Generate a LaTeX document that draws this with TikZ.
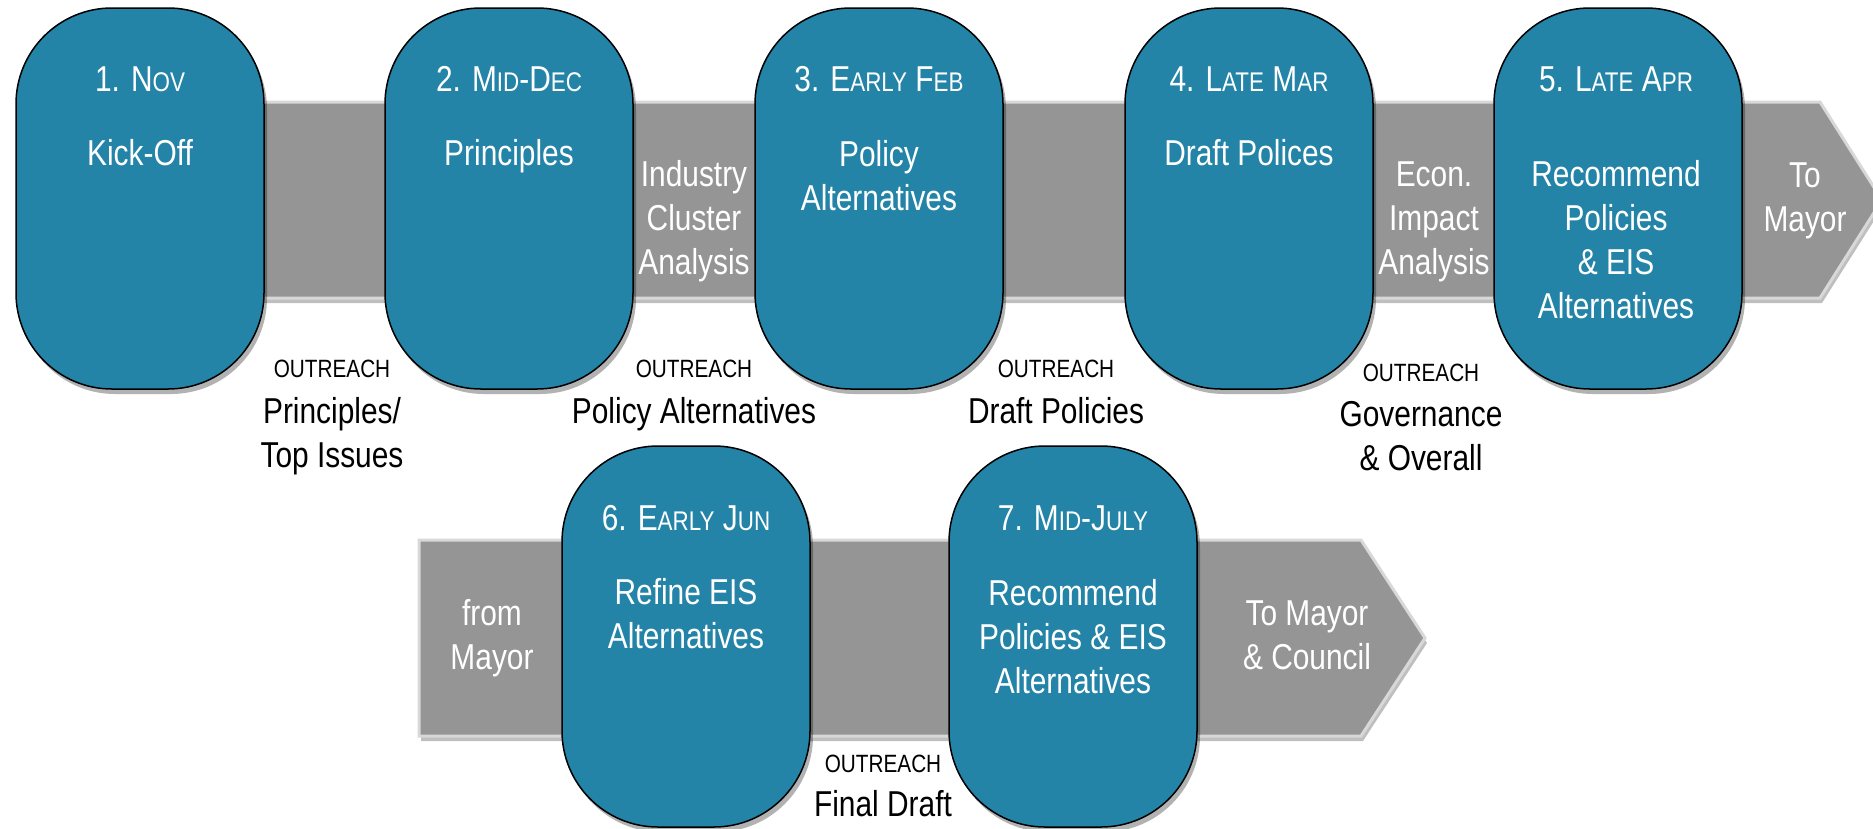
\documentclass[tikz,border=0pt]{standalone}
\usepackage{fontspec}
\setmainfont{Liberation Sans}[FakeStretch=0.83]
\usetikzlibrary{shadows}
\definecolor{capteal}{HTML}{2384A8}
\definecolor{bandgray}{HTML}{959595}
\definecolor{bandedge}{HTML}{D8D8D8}
\newcommand\smc[1]{{\fontsize{27}{44}\selectfont #1}}
\newcommand\lns[1]{\begin{tabular}[t]{@{}c@{}}#1\end{tabular}}
\tikzset{
  capsule/.style={draw=black, line width=1.5pt, fill=capteal, rounded corners=96pt,
    minimum width=248pt, minimum height=381pt, inner sep=0pt,
    drop shadow={shadow xshift=3pt, shadow yshift=-5pt, opacity=0.3, fill=black}},
  band/.style={fill=bandgray, draw=bandedge, line width=3pt,
    drop shadow={shadow xshift=2pt, shadow yshift=-5pt, opacity=0.25, fill=black}},
  txt/.style={anchor=base, inner sep=0pt, font=\fontsize{36}{44}\selectfont, text=white},
  dark/.style={txt, text=black},
  outr/.style={anchor=base, inner sep=0pt, font=\fontsize{25}{30}\selectfont, text=black}
}
\begin{document}
\begin{tikzpicture}[x=1pt, y=-1pt]
\useasboundingbox (0,0) rectangle (1873,828);
% arrows (bands)
\path[band] (150,102) -- (1820,102) -- (1882,200) -- (1820,298) -- (150,298) -- cycle;
\path[band] (419,540) -- (1361,540) -- (1425,638) -- (1361,736) -- (419,736) -- cycle;
% capsules
\node[capsule] (c1) at (140,198.5) {};
\node[capsule] (c2) at (509,198.5) {};
\node[capsule] (c3) at (879,198.5) {};
\node[capsule] (c4) at (1249,198.5) {};
\node[capsule] (c5) at (1618,198.5) {};
\node[capsule] (c6) at (686,636.5) {};
\node[capsule] (c7) at (1073,636.5) {};
% capsule texts, top row
\node[txt] (h1) at (140,91) {1. N\smc{OV}};
\node[txt] (t1) at (140,165) {Kick-Off};
\node[txt] (h2) at (509,91) {2. M\smc{ID}-D\smc{EC}};
\node[txt] (t2) at (509,165) {Principles};
\node[txt] (h3) at (879,91) {3. E\smc{ARLY} F\smc{EB}};
\node[txt] (t3) at (879,166) {\lns{Policy\\Alternatives}};
\node[txt] (h4) at (1249,91) {4. L\smc{ATE} M\smc{AR}};
\node[txt] (t4) at (1249,165) {Draft Polices};
\node[txt] (h5) at (1616,91) {5. L\smc{ATE} A\smc{PR}};
\node[txt] (t5) at (1616,186) {\lns{Recommend\\Policies\\\& EIS\\Alternatives}};
% band texts, top row
\node[txt] (b1) at (694,186) {\lns{Industry\\Cluster\\Analysis}};
\node[txt] (b2) at (1434,186) {\lns{Econ.\\Impact\\Analysis}};
\node[txt] (b3) at (1805,187) {\lns{To\\Mayor}};
% outreach labels, top row
\node[outr] (o1) at (332,377) {OUTREACH};
\node[dark] (p1) at (332,423) {\lns{Principles/\\Top Issues}};
\node[outr] (o2) at (694,377) {OUTREACH};
\node[dark] (p2) at (694,423) {Policy Alternatives};
\node[outr] (o3) at (1056,377) {OUTREACH};
\node[dark] (p3) at (1056,423) {Draft Policies};
\node[outr] (o4) at (1421,381) {OUTREACH};
\node[dark] (p4) at (1421,426) {\lns{Governance\\\& Overall}};
% bottom row
\node[txt] (b4) at (492,625) {\lns{from\\Mayor}};
\node[txt] (h6) at (686,530) {6. E\smc{ARLY} J\smc{UN}};
\node[txt] (t6) at (686,604) {\lns{Refine EIS\\Alternatives}};
\node[txt] (h7) at (1073,530) {7. M\smc{ID}-J\smc{ULY}};
\node[txt] (t7) at (1073,605) {\lns{Recommend\\Policies \& EIS\\Alternatives}};
\node[txt] (b5) at (1307,625) {\lns{To Mayor\\\& Council}};
\node[outr] (o5) at (883,772) {OUTREACH};
\node[dark] (p5) at (883,816) {Final Draft};
\end{tikzpicture}
\end{document}
